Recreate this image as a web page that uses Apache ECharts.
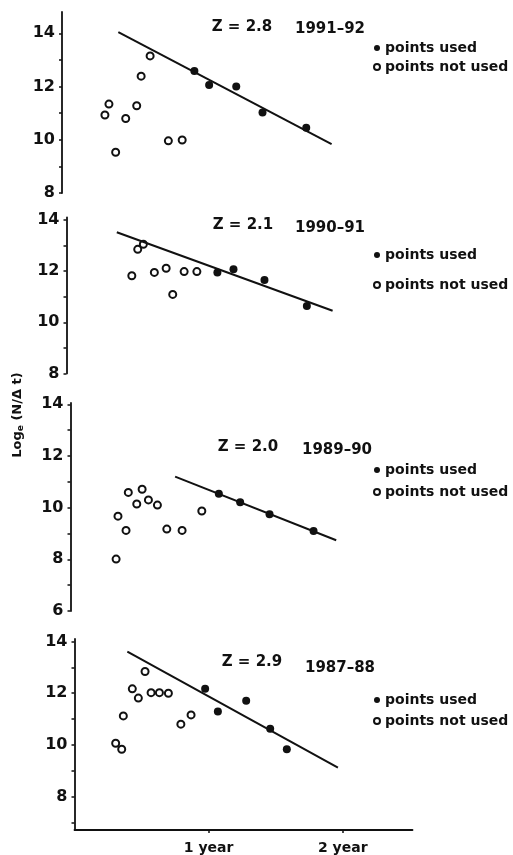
<!DOCTYPE html>
<html>
<head>
<meta charset="utf-8">
<script src="https://cdn.jsdelivr.net/npm/echarts@6/dist/echarts.min.js"></script>
<style>
  html, body { margin: 0; padding: 0; background: #fff; }
  #chart { width: 513px; height: 855px; }
</style>
</head>
<body>
<div id="chart"></div>
<script>
// time since birth (years) vs Loge(N/Δt), one pair per sample
const notUsed9192 = [[0.32, 10.93], [0.35, 11.34], [0.40, 9.53], [0.475, 10.80], [0.557, 11.28], [0.59, 12.39], [0.657, 13.15], [0.793, 9.96], [0.896, 9.99]];
const used9192 = [[0.987, 12.58], [1.097, 12.06], [1.299, 12.0], [1.495, 11.02], [1.821, 10.45]];
const fit9192 = [[0.42, 14.04], [2.01, 9.84]];

const notUsed9091 = [[0.487, 11.82], [0.531, 12.85], [0.573, 13.05], [0.655, 11.95], [0.743, 12.11], [0.792, 11.09], [0.877, 11.98], [0.972, 11.98]];
const used9091 = [[1.125, 11.95], [1.245, 12.07], [1.476, 11.65], [1.792, 10.64]];
const fit9091 = [[0.375, 13.52], [1.984, 10.45]];

const notUsed8990 = [[0.34, 8.01], [0.354, 9.67], [0.414, 9.12], [0.431, 10.59], [0.494, 10.14], [0.534, 10.71], [0.581, 10.3], [0.648, 10.1], [0.718, 9.17], [0.832, 9.12], [0.979, 9.87]];
const used8990 = [[1.106, 10.54], [1.265, 10.21], [1.484, 9.74], [1.812, 9.1]];
const fit8990 = [[0.78, 11.2], [1.981, 8.74]];

const notUsed8788 = [[0.307, 10.06], [0.352, 9.83], [0.364, 11.12], [0.431, 12.17], [0.476, 11.81], [0.526, 12.84], [0.571, 12.02], [0.633, 12.02], [0.70, 12.0], [0.793, 10.8], [0.869, 11.16]];
const used8788 = [[0.974, 12.17], [1.069, 11.29], [1.28, 11.71], [1.459, 10.62], [1.583, 9.83]];
const fit8788 = [[0.394, 13.61], [1.964, 9.12]];

const seasons = ['1991–92', '1990–91', '1989–90', '1987–88'];
const zValues = ['2.8', '2.1', '2.0', '2.9'];
const yMins = [8, 8, 6, 6.7];
const yMaxs = [14.8, 14.1, 14.05, 14.1];
const yTicks = [[8, 9, 10, 11, 12, 13, 14], [8, 9, 10, 11, 12, 13, 14], [6, 7, 8, 9, 10, 11, 12, 13, 14], [7, 8, 9, 10, 11, 12, 13, 14]];
const yLabels = [[8, 10, 12, 14], [8, 10, 12, 14], [6, 8, 10, 12, 14], [8, 10, 12, 14]];
const xTicks = [1, 2];
const xTickNames = ['1 year', '2 year'];

const panels = [
  { used: used9192, notUsed: notUsed9192, fit: fit9192 },
  { used: used9091, notUsed: notUsed9091, fit: fit9091 },
  { used: used8990, notUsed: notUsed8990, fit: fit8990 },
  { used: used8788, notUsed: notUsed8788, fit: fit8788 }
];

// layout of the scanned page (slightly skewed, so lefts drift)
const grids = [
  { left: 62, top: 12, width: 338, height: 181 },
  { left: 66.5, top: 217.4, width: 338, height: 156 },
  { left: 70.5, top: 403, width: 338, height: 208 },
  { left: 74.5, top: 639, width: 338, height: 191 }
];
const zPos = [[242, 27], [243, 225], [248, 447], [252, 662]];
const seasonPos = [[330, 29], [330, 228], [337, 450], [340, 668]];
const legendTop = [36, 243, 458, 688];
const legendGap = [5, 16, 8, 7];

const ink = '#111';
const font = 'DejaVu Sans';

let option = {
  backgroundColor: '#fff',
  animation: false,
  textStyle: { fontFamily: font, color: ink },
  grid: grids,
  xAxis: [],
  yAxis: [],
  series: [],
  legend: [],
  graphic: []
};

panels.forEach((p, i) => {
  let last = i === panels.length - 1;
  option.xAxis.push({
    type: 'value',
    gridIndex: i,
    min: 0,
    max: 2.52,
    show: last,
    axisLine: { onZero: false, lineStyle: { color: ink, width: 1.8 } },
    axisTick: { customValues: xTicks, length: 3, lineStyle: { color: ink, width: 1.5 } },
    axisLabel: {
      customValues: xTicks,
      margin: 11,
      color: ink,
      fontFamily: font,
      fontWeight: 'bold',
      fontSize: 14,
      formatter: v => xTickNames[xTicks.indexOf(v)] || ''
    },
    splitLine: { show: false }
  });
  option.yAxis.push({
    type: 'value',
    gridIndex: i,
    min: yMins[i],
    max: yMaxs[i],
    axisLine: { show: true, onZero: false, lineStyle: { color: ink, width: 1.8 } },
    axisTick: { show: true, customValues: yTicks[i], length: 3, lineStyle: { color: ink, width: 1.5 } },
    axisLabel: {
      customValues: yLabels[i],
      margin: 7,
      color: ink,
      fontFamily: font,
      fontWeight: 'bold',
      fontSize: 16
    },
    splitLine: { show: false }
  });
  option.series.push({
    name: 'points not used',
    type: 'scatter',
    xAxisIndex: i,
    yAxisIndex: i,
    symbol: 'emptyCircle',
    symbolSize: 7,
    itemStyle: { color: ink, borderWidth: 2, opacity: 1 },
    data: p.notUsed
  });
  option.series.push({
    name: 'points used',
    type: 'scatter',
    xAxisIndex: i,
    yAxisIndex: i,
    symbol: 'circle',
    symbolSize: 8,
    itemStyle: { color: ink, opacity: 1 },
    data: p.used
  });
  option.series.push({
    name: 'fit',
    type: 'line',
    xAxisIndex: i,
    yAxisIndex: i,
    symbol: 'none',
    lineStyle: { color: ink, width: 2 },
    data: p.fit
  });
  option.legend.push({
    orient: 'vertical',
    left: 368,
    top: legendTop[i],
    itemWidth: 6,
    itemHeight: 6,
    itemGap: legendGap[i],
    textStyle: { fontFamily: font, fontWeight: 'bold', fontSize: 14, color: ink },
    data: [
      { name: 'points used', icon: 'circle' },
      { name: 'points not used', icon: 'emptyCircle' }
    ]
  });
  option.graphic.push({
    type: 'text',
    x: zPos[i][0],
    y: zPos[i][1],
    style: {
      text: 'Z = ' + zValues[i],
      fill: ink,
      font: 'bold 15px "DejaVu Sans"',
      align: 'center',
      verticalAlign: 'middle'
    }
  });
  option.graphic.push({
    type: 'text',
    x: seasonPos[i][0],
    y: seasonPos[i][1],
    style: {
      text: seasons[i],
      fill: ink,
      font: 'bold 15px "DejaVu Sans"',
      align: 'center',
      verticalAlign: 'middle'
    }
  });
});

// shared y axis title
option.graphic.push({
  type: 'text',
  x: 18,
  y: 415,
  rotation: Math.PI / 2,
  style: {
    text: '{n|Log}{s|e}{n| (N/Δ t)}',
    fill: ink,
    align: 'center',
    verticalAlign: 'middle',
    rich: {
      n: { fontFamily: font, fontWeight: 'bold', fontSize: 13, fill: ink },
      s: { fontFamily: font, fontWeight: 'bold', fontSize: 9, fill: ink, padding: [6, 0, 0, 0] }
    }
  }
});

let myChart = echarts.init(document.getElementById('chart'));
myChart.setOption(option);
window.onresize = myChart.resize;
</script>
</body>
</html>
